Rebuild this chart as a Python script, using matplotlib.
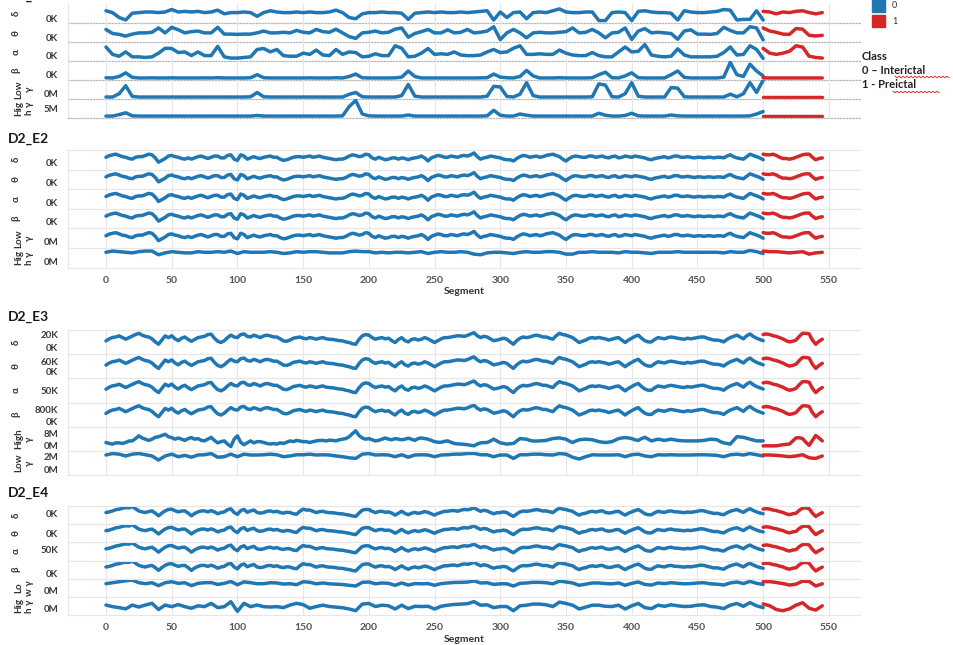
import numpy as np
import matplotlib.pyplot as plt
from matplotlib.patches import Rectangle
from matplotlib.lines import Line2D

plt.rcParams['font.family'] = ['Lato', 'DejaVu Sans']

# values read every 5th segment; class 0 up to 500, class 1 after
seg_blue = np.arange(0, 501, 5)
seg_red = np.arange(500, 546, 5)

# ---- D2_E1 (relative level per row) ----
e1_delta = [8.5, 7, 3, 1, 6.5, 7, 7.5, 7.5, 7, 7.5,
            9.5, 7.5, 8, 7.5, 8, 7, 7.5, 9, 6, 7,
            7, 7.5, 7, 4, 7, 8.5, 7.5, 7, 7, 7.5,
            7, 7.5, 7, 7, 7.5, 9, 7, 3, 2, 6,
            7, 7, 7.5, 7, 7, 6.5, 1.5, 6.5, 7, 7.5,
            7, 7.5, 7, 7, 7.5, 7, 7.5, 8, 8.5, 1,
            7.5, 3, 7, 7.5, 2, 7, 7.5, 7, 8.5, 10,
            7.5, 7, 7, 7.5, 7.5, 0.5, 0.5, 7, 7.5, 7,
            0.5, 8, 8.5, 7.5, 7, 7, 6.5, 1, 8.5, 7.5,
            7, 7, 7.5, 8, 9.5, 9, 1, 1.5, 1.5, 8.5,
            1]
e1_delta_red = [8, 7.5, 6, 7.5, 7, 8, 8.5, 7, 6, 7]

e1_theta = [8.8, 5.5, 4.8, 3.4, 5, 6, 6, 6.5, 10, 6,
            10.5, 8.5, 6, 7, 7.5, 6, 6, 10.5, 5, 5,
            4.8, 5, 5, 6, 7.5, 6, 6, 6.5, 6, 8,
            6.5, 6, 8.8, 7, 6.5, 9, 6, 3, 1.5, 6,
            6.5, 7.5, 6, 6.5, 9, 10, 2.5, 5.5, 7, 8.8,
            6, 6, 8.5, 6, 6.5, 8.8, 6, 6.5, 7.5, 11,
            0.5, 6, 8.8, 6, 2, 6, 6.5, 6, 6, 6.5,
            7, 10, 6, 6.5, 8.8, 6, 2, 6, 6.5, 10,
            0.7, 7.5, 9.5, 6, 6.5, 6, 5.5, 0.8, 7.5, 8.5,
            5, 5, 4.8, 5.5, 10.5, 8, 6, 6, 11, 10,
            0.3]
e1_theta_red = [10, 7.5, 6.5, 5, 4.8, 9.5, 9, 4, 3.5, 4]

e1_alpha = [10, 4, 2.5, 6, 2, 2, 1.5, 2, 5, 9,
            8.8, 5.5, 6, 3, 6, 3, 3, 10.5, 2, 1,
            1, 1.5, 2, 8, 8.8, 6, 8, 3, 2.5, 2.5,
            5, 4, 7.5, 3.5, 3, 8, 4, 6, 5.5, 2,
            2.5, 4.5, 3, 3, 11, 9, 2, 2.5, 5, 8.8,
            4, 4.5, 4, 6, 3.5, 3, 3, 3.5, 6, 8,
            5.5, 6, 9, 11, 4, 4, 4.5, 4, 4, 7.5,
            5, 3.5, 3, 3, 5.5, 3, 2, 2, 6, 10,
            6, 6.5, 12, 3.5, 2.5, 2, 2.5, 8.5, 3.5, 2,
            2, 2, 2, 2.5, 5.5, 10, 3.5, 4, 11, 8,
            0.7]
e1_alpha_red = [8.8, 5, 4, 5, 6.5, 11, 10, 2.5, 1.5, 1]

e1_beta = [0.5, 0.3, 1.5, 4.5, 0.8, 0.3, 0.3, 0.4, 0.3, 0.3,
           0.4, 0.3, 0.3, 0.3, 0.3, 0.4, 0.3, 0.5, 0.3, 0.3,
           0.3, 0.3, 0.5, 3, 0.5, 0.3, 0.3, 0.3, 0.3, 0.3,
           0.3, 0.4, 0.3, 0.3, 0.3, 0.5, 0.3, 1.5, 3.5, 0.5,
           0.3, 0.3, 0.3, 0.3, 0.4, 1, 6, 1.5, 0.3, 0.3,
           0.3, 0.3, 0.3, 0.3, 0.3, 0.3, 0.3, 0.4, 0.5, 3.5,
           1, 0.5, 0.3, 1.5, 6.5, 2, 0.3, 0.3, 0.3, 0.5,
           0.3, 0.3, 0.3, 0.3, 0.5, 3, 5, 0.5, 0.3, 2,
           4.5, 0.5, 0.3, 0.3, 0.3, 0.3, 3, 6, 0.8, 0.3,
           0.3, 0.3, 0.3, 0.3, 1, 13, 3, 1.5, 11.5, 6,
           2]
e1_beta_red = [0.4, 0.3, 0.3, 0.3, 0.3, 0.3, 0.3, 0.3, 0.3, 0.3]

e1_low_gamma = [0.3, 0.3, 3, 9.5, 0.8, 0.3, 0.3, 0.3, 0.3, 0.3,
                0.3, 0.3, 0.3, 0.3, 0.3, 0.3, 0.3, 0.3, 0.3, 0.3,
                0.3, 0.3, 0.5, 4, 0.5, 0.3, 0.3, 0.3, 0.3, 0.3,
                0.3, 0.3, 0.3, 0.3, 0.3, 0.3, 0.3, 2.5, 4, 0.5,
                0.3, 0.3, 0.3, 0.3, 0.3, 1.5, 10.5, 1, 0.3, 0.3,
                0.3, 0.3, 0.3, 0.3, 0.3, 0.3, 0.3, 0.3, 1, 9,
                8.5, 0.8, 0.3, 2.6, 12, 1.5, 0.3, 0.3, 0.3, 0.3,
                0.3, 0.3, 0.3, 0.3, 0.5, 11, 10, 0.5, 0.3, 3,
                12, 1, 0.3, 0.3, 0.3, 0.3, 8, 7.5, 0.5, 0.3,
                0.3, 0.3, 0.3, 0.3, 0.3, 2.6, 0.5, 3, 12, 4,
                14]
e1_low_gamma_red = [0.3, 0.3, 0.3, 0.3, 0.3, 0.3, 0.3, 0.3, 0.3, 0.3]

e1_high_gamma = [0.3, 0.3, 1.5, 3, 0.5, 0.3, 0.3, 0.3, 0.3, 0.3,
                 0.3, 0.3, 0.3, 0.3, 0.3, 0.3, 0.3, 0.3, 0.3, 0.3,
                 0.3, 0.3, 0.3, 0.8, 0.3, 0.3, 0.3, 0.3, 0.3, 0.3,
                 0.3, 0.3, 0.3, 0.3, 0.3, 0.3, 0.5, 8, 13, 2,
                 0.5, 0.3, 0.3, 0.3, 0.3, 0.3, 1.2, 0.3, 0.3, 0.3,
                 0.3, 0.3, 0.3, 0.3, 0.3, 0.3, 0.3, 0.3, 0.5, 5,
                 1, 0.3, 0.3, 2, 1, 0.3, 0.3, 0.3, 0.3, 0.3,
                 0.3, 0.3, 0.3, 0.3, 0.3, 2.6, 1, 0.3, 0.3, 0.8,
                 2.6, 0.5, 0.3, 0.3, 0.3, 0.3, 1.2, 0.5, 0.3, 0.3,
                 0.3, 0.3, 0.3, 0.3, 0.3, 0.3, 0.3, 0.3, 0.5, 2,
                 4]
e1_high_gamma_red = [0.3, 0.3, 0.3, 0.3, 0.3, 0.3, 0.3, 0.3, 0.3, 0.3]

# ---- D2_E2: δ..low γ rows share one trace ----
e2_wave = [8.5, 10.5, 10, 8.5, 7, 9, 10, 10.5, 4.5, 7.5,
           10, 8.5, 7, 7, 9, 8.5, 8.5, 9.5, 8, 10.5,
           6, 9.5, 8, 8, 8.5, 9.5, 8.5, 6, 7.5, 9,
           8.5, 9.5, 9, 8.5, 7.5, 6.5, 7, 9.5, 10, 9.5,
           10.5, 7, 7.5, 7, 8, 8, 6.5, 8, 9.5, 5.5,
           9, 9.5, 8.5, 9, 9.5, 9.5, 12, 7, 8.5, 9,
           8, 6.5, 5.5, 9, 9.5, 9, 8.5, 10, 11, 9,
           5.5, 9, 9, 8.5, 9.5, 9, 8.5, 9, 8, 9.5,
           8.5, 9, 8, 6.5, 8, 9, 8.5, 9.5, 8.5, 8.5,
           8.5, 8, 8.5, 8.5, 8, 10.5, 8, 7, 11, 9,
           6.5]
# in-between readings (segments 2.5, 7.5, ...)
e2_wave_mid = [9.8, 11, 9, 7.5, 8.5, 9, 11, 8, 6, 9.5,
               9, 7.5, 8, 8, 9.5, 7.5, 9.5, 8, 10, 7,
               10.5, 7, 9, 7.5, 9, 8.5, 7, 6.5, 8.5, 9,
               9, 8.5, 9.5, 8, 7, 7, 8, 10.5, 9, 11,
               8, 8.5, 6.5, 8, 7, 7.5, 7.5, 8.5, 8, 8,
               10, 8.5, 9.5, 8.5, 10, 10.5, 9, 8, 9.5, 8.5,
               7, 6.5, 7.5, 10, 8.5, 9.5, 9, 10.5, 10, 7,
               7.5, 9.5, 8.5, 9.5, 8.5, 9.5, 8, 9.5, 8.5, 9,
               9.5, 8.5, 7, 7.5, 8.5, 8, 9.5, 8.5, 9, 8,
               8.5, 8.5, 8, 8.5, 9.5, 9, 7.5, 9, 10, 8]
e2_wave_red = [11, 10.5, 10, 7.5, 7, 8.5, 10.5, 11, 6.5, 8]
e2_wave_red_mid = [10.5, 11, 8.5, 7.5, 7.5, 9.5, 11, 8.5, 7.5]

e2_high_gamma = [11, 12, 11.5, 11, 10.5, 11.5, 12, 12, 9, 10.5,
                 11.5, 11, 10.5, 10.5, 11.5, 11, 11, 11.5, 11, 12,
                 10, 11.5, 11, 11, 11, 11.5, 11, 10, 10.5, 11.5,
                 11, 11.5, 11.5, 11, 10.5, 10.5, 10.5, 11.5, 12, 11.5,
                 11.5, 10.5, 11, 10.5, 11, 11, 10.5, 11, 11.5, 10,
                 11, 11.5, 11, 11, 11.5, 11, 9.5, 9, 10.5, 11,
                 11, 10.5, 10, 11, 11.5, 11, 11, 11.5, 11.5, 11,
                 9.5, 9.5, 11, 11, 11.5, 11, 11, 11, 10.5, 11.5,
                 11, 11, 10.5, 10, 11, 11, 11, 11.5, 11, 11,
                 11, 11, 11, 11, 10.5, 11.5, 11, 11, 12.5, 11.5,
                 10]
e2_high_gamma_red = [12, 11.5, 11.5, 11, 10.5, 11, 11.5, 9.5, 10.5, 11]

# ---- D2_E3 ----
e3_wave = [9.3, 12.1, 13.4, 10.7, 13.4, 15.5, 13, 11, 6.6, 13.4,
           13.5, 9.5, 12.5, 9, 12, 13, 14.8, 9, 9.5, 14,
           12, 15, 12.5, 13, 13.4, 13.4, 12.5, 9.3, 10, 12,
           11.5, 12, 10.7, 12, 10.7, 10, 9.3, 8, 6.6, 13.4,
           14, 10.7, 12, 11.5, 8, 12, 8.5, 11, 10.7, 11,
           8, 11, 12, 13, 13.4, 13.8, 16, 12, 12.5, 9.5,
           10.7, 10.7, 6.6, 11.5, 12, 13.4, 13.4, 12.5, 10.7, 15.5,
           14, 12, 8, 10, 12, 12.1, 11, 10.7, 12, 8,
           11.5, 14, 9.5, 8.5, 12, 11, 12.5, 11.5, 10.7, 11,
           12, 12.5, 10.7, 10, 8.5, 12, 14, 11, 15, 11.5,
           9.5]
e3_wave_mid = [11, 12.5, 12, 12, 14.5, 14, 12.5, 8.5, 10, 12,
               11, 11.5, 10.5, 10.5, 12.5, 14.5, 11.5, 8, 12, 12.5,
               14.5, 13, 14, 12, 14, 12.5, 11, 9, 11.5, 12.5,
               11, 11.5, 11.5, 11, 10.5, 9.5, 8.5, 7, 10.5, 14.5,
               12, 11.5, 11, 9.5, 10.5, 9.5, 10.5, 10, 12, 9.5,
               9.5, 12, 12.5, 13.5, 13, 15, 13.5, 13, 11, 10,
               11.5, 8.5, 9.5, 12.5, 12.5, 14, 12.5, 11.5, 13.5, 14.5,
               13, 10, 9, 11.5, 11.5, 11.5, 10, 11.5, 10, 10,
               13, 11.5, 8.5, 10.5, 11.5, 12, 12, 11, 11.5, 11.5,
               12.5, 11.5, 10, 9.5, 10.5, 13, 12.5, 13.5, 13, 10.5]
e3_wave_red = [14.5, 14.5, 13, 11, 8.5, 10, 15.5, 15, 6.6, 10.7]
e3_wave_red_mid = [15, 13.5, 12, 9.5, 9, 13, 15.5, 10, 9]

e3_high_gamma = [5.3, 4, 5, 5.3, 6.6, 10.7, 8, 8, 10, 12,
                 9.3, 9, 7, 9.3, 8.5, 6.6, 9.5, 5, 6.6, 2,
                 10.7, 3.5, 6.6, 6, 5.3, 4, 4, 4.5, 6.6, 7,
                 6, 5.3, 6.6, 7, 7.2, 6.6, 8, 10, 14.8, 9,
                 8.5, 6.6, 8, 8, 8.5, 7.5, 8.8, 7, 9, 8,
                 6, 5.5, 6.6, 4.5, 4, 3.5, 2.6, 5, 5.3, 8,
                 5, 4, 4.5, 8.5, 8, 6.5, 6.6, 7, 8.5, 9,
                 8, 5.3, 7.5, 8, 7.5, 6, 5.3, 6, 8.5, 9.3,
                 8.5, 7, 9.5, 6.6, 8, 7, 8, 7, 6.6, 6.6,
                 6.6, 7, 8, 7.5, 5, 4, 10, 9.5, 8, 6.6,
                 6.6]
e3_high_gamma_mid = [4.5, 5, 4.5, 6.5, 8.5, 9, 7, 9.5, 11, 10,
                     8, 8, 8.5, 8, 7, 8, 7, 6, 4, 8,
                     5.5, 5, 5, 6, 4.5, 4.5, 5, 5.5, 6, 6.5,
                     6, 6, 7, 6.6, 7, 7.5, 8.5, 12.5, 11, 8,
                     7.5, 7, 9, 7.5, 8, 8, 8, 8.5, 8.5, 7,
                     5.5, 6.2, 5.5, 4.2, 3.8, 3, 4, 5.2, 6.5, 6.5,
                     4.5, 4.3, 6.5, 8.2, 7, 6.5, 6.8, 7.8, 8.8, 8.5,
                     6.5, 6.5, 7.8, 7.8, 6.8, 5.6, 5.6, 7.2, 9, 9,
                     7.5, 8.5, 8, 7.3, 7.5, 7.5, 7.5, 6.8, 6.6, 6.6,
                     6.8, 7.5, 7.8, 6, 4.5, 7, 9.8, 8.8, 7.3, 6.6]
e3_high_gamma_red = [2.5, 2.6, 2.6, 3.5, 4, 9, 8.5, 3, 11, 6.6]
e3_high_gamma_red_mid = [2.6, 2.5, 3, 3.8, 6.5, 9.2, 5.5, 7, 9]

e3_low_gamma = [14.8, 16, 15.5, 14, 15.5, 16, 15, 14, 10.7, 14,
                15.5, 13.4, 14.5, 13, 14.8, 15, 16, 13, 13.4, 15.5,
                13.4, 15.5, 14.8, 14.8, 15, 15.5, 15, 13.4, 14, 15,
                15, 15.5, 14.8, 15, 14.8, 14, 13.4, 12.5, 12, 15.5,
                16, 14.8, 15, 14.8, 13.4, 15, 13, 14.8, 15, 14.8,
                13.4, 14.8, 15, 15.5, 15.5, 16, 16.1, 15, 15, 13.4,
                14.8, 14.8, 12, 15, 15, 15.5, 15.5, 15, 14.8, 16,
                15.5, 13, 11.5, 13.4, 15, 14.8, 14.8, 14.8, 15, 13.4,
                15, 15.5, 14, 13.4, 15, 14.8, 15, 14.8, 14.8, 14.8,
                15, 15, 14.8, 14.5, 13.4, 15, 15.5, 14.8, 16, 15,
                14]
e3_low_gamma_red = [14.8, 14.8, 14.5, 14, 13.4, 14, 15, 12.5, 12, 14]

# ---- D2_E4 ----
e4_wave = [8.0, 9.3, 10.7, 12.0, 12.8, 9.3, 8.0, 9.3, 5.3, 9.3,
           10.7, 8.5, 9.3, 5.3, 8.5, 9.3, 9.5, 7.0, 8.5, 11.0,
           6.5, 10.5, 9.3, 8.0, 8.0, 9.3, 9.0, 7.5, 8.0, 6.6,
           10.7, 10.0, 7.9, 9.0, 7.9, 7.4, 6.9, 5.9, 4.8, 9.9,
           10.4, 7.9, 9.0, 8.5, 5.9, 9.0, 6.2, 8.1, 7.9, 8.1,
           5.9, 8.1, 9.0, 9.6, 9.9, 10.2, 11.9, 9.0, 9.3, 7.0,
           7.9, 7.9, 4.8, 8.5, 9.0, 9.9, 9.9, 9.3, 7.9, 11.5,
           10.4, 9.0, 5.9, 7.4, 9.0, 9.0, 8.1, 7.9, 9.0, 5.9,
           8.5, 10.4, 7.0, 6.2, 9.0, 8.1, 9.3, 8.5, 7.9, 8.1,
           9.0, 9.3, 7.9, 7.4, 6.2, 9.0, 10.4, 8.1, 11.1, 8.5,
           7.0]
e4_wave_mid = [8.5, 10.3, 11.5, 11.8, 11, 8.5, 8.8, 7.5, 7.5, 10.5,
               9.5, 9.2, 7.5, 7.2, 9.3, 8.5, 8.5, 8, 10.3, 8,
               9.5, 8.2, 10, 7.5, 9, 8.5, 8, 8.2, 7, 9,
               10, 9, 8.7, 8.2, 7.8, 7, 6.3, 5.2, 7.5, 10.5,
               9, 8.8, 8.2, 7.5, 7.5, 7.3, 7.4, 7.3, 8.8, 7,
               7.2, 9, 9.5, 9, 10.5, 10.8, 10.3, 9.8, 8, 7.8,
               8.5, 6.2, 6.8, 9.2, 9.3, 10.4, 9.2, 8.6, 10, 10.8,
               9.6, 7.2, 7, 8.5, 8.4, 9.4, 7.6, 8.7, 7.3, 7.4,
               9.6, 8.8, 6.2, 7.8, 8.4, 9, 8.6, 8.2, 8.4, 8.6,
               9.6, 8.5, 7.2, 6.7, 7.8, 9.8, 9.2, 9.9, 9.6, 7.6]
e4_wave_red = [10.8, 10.8, 9.6, 8.1, 6.2, 7.4, 11.5, 11.1, 4.8, 7.9]
e4_wave_red_mid = [11.2, 10, 8.7, 6.9, 7, 9.8, 11.8, 7.5, 6.5]

e4_low_gamma = [9.2, 10.0, 10.8, 11.6, 12.1, 10.0, 9.2, 10.0, 7.6, 10.0,
                10.8, 9.5, 10.0, 7.6, 9.5, 10.0, 10.1, 8.6, 9.5, 11.0,
                8.3, 10.7, 10.0, 9.2, 9.2, 10.0, 9.8, 8.9, 9.2, 8.4,
                10.8, 10.4, 9.1, 9.8, 9.1, 8.8, 8.5, 7.9, 7.3, 10.3,
                10.6, 9.1, 9.8, 9.5, 7.9, 9.8, 8.1, 9.3, 9.1, 9.3,
                7.9, 9.3, 9.8, 10.2, 10.3, 10.5, 11.5, 9.8, 10.0, 8.6,
                9.1, 9.1, 7.3, 9.5, 9.8, 10.3, 10.3, 10.0, 9.1, 11.3,
                10.6, 9.8, 7.9, 8.8, 9.8, 9.8, 9.3, 9.1, 9.8, 7.9,
                9.5, 10.6, 8.6, 8.1, 9.8, 9.3, 10.0, 9.5, 9.1, 9.3,
                9.8, 10.0, 9.1, 8.8, 8.1, 9.8, 10.6, 9.3, 11.1, 9.5,
                8.6]
e4_low_gamma_red = [10.9, 10.9, 10.2, 9.3, 8.1, 8.8, 11.3, 11.1, 7.3, 9.1]

e4_high_gamma = [6.6, 5.3, 4.5, 3.5, 6.6, 5.0, 6.6, 8.0, 3.0, 6.6,
                 5.3, 7.0, 5.3, 4.0, 6.0, 5.3, 8.0, 4.5, 5.3, 9.3,
                 1.5, 8.0, 5.3, 6.6, 5.3, 5.0, 5.3, 4.5, 6.6, 8.0,
                 7.0, 4.0, 5.4, 6.5, 5.4, 4.9, 4.4, 3.4, 2.0, 7.4,
                 7.9, 5.4, 6.5, 6.0, 3.4, 6.5, 3.7, 5.6, 5.4, 5.6,
                 3.4, 5.6, 6.5, 7.1, 7.4, 7.7, 9.4, 6.5, 6.8, 4.5,
                 5.4, 5.4, 2.0, 6.0, 6.5, 7.4, 7.4, 6.8, 5.4, 9.0,
                 7.9, 6.5, 3.4, 4.9, 6.5, 6.5, 5.6, 5.4, 6.5, 3.4,
                 6.0, 7.9, 4.5, 3.7, 6.5, 5.6, 6.8, 6.0, 5.4, 5.6,
                 6.5, 6.8, 5.4, 4.9, 3.7, 6.5, 7.9, 5.6, 8.6, 6.0,
                 4.5]
e4_high_gamma_red = [7.5, 6.0, 3.0, 2.0, 3.5, 6.5, 8.5, 4.0, 2.5, 6.0]

x_ticks = np.arange(0, 551, 50)

BLUE = '#1f77b4'
RED = '#d62728'
GRID = '#e6e6e6'
W, H = 954, 645
X0, X1 = 68, 860


def weave(main, mid):
    # put the in-between readings back between the 5-segment readings
    out = np.empty(len(main) + len(mid))
    out[0::2] = main
    out[1::2] = mid
    return out


def seg_axis(vals, start):
    step = 5 if len(vals) in (len(seg_blue), len(seg_red)) else 2.5
    return start + step * np.arange(len(vals))


e2_blue = weave(e2_wave, e2_wave_mid)
e2_red = weave(e2_wave_red, e2_wave_red_mid)
e3_blue = weave(e3_wave, e3_wave_mid)
e3_red = weave(e3_wave_red, e3_wave_red_mid)
e3_hg_blue = weave(e3_high_gamma, e3_high_gamma_mid)
e3_hg_red = weave(e3_high_gamma_red, e3_high_gamma_red_mid)
e4_blue = weave(e4_wave, e4_wave_mid)
e4_red = weave(e4_wave_red, e4_wave_red_mid)

fig = plt.figure(figsize=(W / 100, H / 100), dpi=100)
fig.patch.set_facecolor('white')


def fx(x):
    return x / W


def fy(y):
    return 1 - y / H


panels = [
    dict(title='D2_E1', title_y=-4, top=4, bottom=118.3, ylim=(-1.5, 14), dotted=True, xaxis=False,
         rows=[('δ', e1_delta, e1_delta_red, [(2.0, '0K')]),
               ('θ', e1_theta, e1_theta_red, [(2.6, '0K')]),
               ('α', e1_alpha, e1_alpha_red, [(3.4, '0K')]),
               ('β', e1_beta, e1_beta_red, [(3.4, '0K')]),
               ('Low\nγ', e1_low_gamma, e1_low_gamma_red, [(3.1, '0M')]),
               ('Hig\nh γ', e1_high_gamma, e1_high_gamma_red, [(6.6, '5M')])]),
    dict(title='D2_E2', title_y=139, top=150, bottom=267.7, ylim=(-1.5, 14.4), dotted=False, xaxis=True,
         rows=[('δ', e2_blue, e2_red, [(3.9, '0K')]),
               ('θ', e2_blue, e2_red, [(3.9, '0K')]),
               ('α', e2_blue, e2_red, [(3.9, '0K')]),
               ('β', e2_blue, e2_red, [(3.9, '0K')]),
               ('Low\nγ', e2_blue, e2_red, [(3.9, '0M')]),
               ('Hig\nh γ', e2_high_gamma, e2_high_gamma_red, [(3.9, '0M')])]),
    dict(title='D2_E3', title_y=317, top=330, bottom=475, ylim=(-1.5, 18.2), dotted=False, xaxis=False,
         rows=[('δ', e3_blue, e3_red, [(4.0, '0K'), (14.8, '20K')]),
               ('θ', e3_blue, e3_red, [(4.4, '0K'), (12.1, '60K')]),
               ('α', e3_blue, e3_red, [(8.0, '50K')]),
               ('β', e3_blue, e3_red, [(2.8, '0K'), (12.9, '800K')]),
               ('High\nγ', e3_hg_blue, e3_hg_red, [(2.6, '0M'), (12.9, '8M')]),
               ('Low\nγ', e3_low_gamma, e3_low_gamma_red, [(3.1, '0M'), (13.9, '2M')])]),
    dict(title='D2_E4', title_y=493, top=506, bottom=615, ylim=(-1.5, 13.3), dotted=False, xaxis=True,
         rows=[('δ', e4_blue, e4_red, [(7.2, '0K')]),
               ('θ', e4_blue, e4_red, [(5.8, '0K')]),
               ('α', e4_blue, e4_red, [(7.4, '50K')]),
               ('β', e4_blue, e4_red, [(2.6, '0K')]),
               ('Lo\nw γ', e4_low_gamma, e4_low_gamma_red, [(4.0, '0M')]),
               ('Hig\nh γ', e4_high_gamma, e4_high_gamma_red, [(4.0, '0M')])]),
]

for p in panels:
    rows = p['rows']
    rh = (p['bottom'] - p['top']) / len(rows)
    fig.text(fx(8), fy(p['title_y']), p['title'], fontsize=10, fontweight='bold',
             ha='left', va='center', color='#1a1a1a')
    for i, (label, blue, red, ticks) in enumerate(rows):
        top = p['top'] + i * rh
        ax = fig.add_axes([fx(X0), fy(top + rh), (X1 - X0) / W, rh / H])
        ax.set_facecolor('none')
        ax.plot(seg_axis(blue, 0), blue, color=BLUE, lw=2.5, solid_joinstyle='round',
                solid_capstyle='round')
        ax.plot(seg_axis(red, 500), red, color=RED, lw=2.5, solid_joinstyle='round',
                solid_capstyle='round')
        ax.set_xlim(-28.9, 573.7)
        ax.set_ylim(*p['ylim'])
        ax.set_xticks(x_ticks)
        ax.grid(axis='x', color=GRID, lw=0.8)
        ax.set_axisbelow(True)
        ax.set_yticks([t[0] for t in ticks], [t[1] for t in ticks],
                      fontsize=7, fontweight='bold', color='#3a3a3a')
        ax.tick_params(axis='y', length=0, pad=7)
        last = (i == len(rows) - 1)
        ax.tick_params(axis='x', length=0, labelbottom=(last and p['xaxis']), pad=6,
                       labelsize=7.5, labelcolor='#555555')
        if last and p['xaxis']:
            for lbl in ax.get_xticklabels():
                lbl.set_fontweight('bold')
        ax.spines['right'].set_visible(False)
        ax.spines['left'].set_color(GRID)
        ax.spines['left'].set_linewidth(0.8)
        if p['dotted']:
            ax.spines['top'].set_visible(False)
            ax.spines['bottom'].set_color('#b8b8b8')
            ax.spines['bottom'].set_linestyle((0, (1, 1.5)))
            ax.spines['bottom'].set_linewidth(0.9)
        else:
            for s in ('top', 'bottom'):
                ax.spines[s].set_color(GRID)
                ax.spines[s].set_linewidth(0.8)
        # row header
        xc = 16 if '\n' not in label else 24
        fig.text(fx(xc), fy(top + rh / 2), label, rotation=90, ha='center', va='center',
                 fontsize=7, fontweight='bold', color='#333333', linespacing=1.35,
                 multialignment='center')
    if p['xaxis']:
        fig.text(fx((X0 + X1) / 2), fy(p['bottom'] + 24), 'Segment', fontsize=7.5,
                 fontweight='bold', ha='center', va='center', color='#333333')

# legend
fig.patches.append(Rectangle((fx(872), fy(11.5)), 13 / W, 12 / H, transform=fig.transFigure,
                             color=BLUE))
fig.patches.append(Rectangle((fx(872), fy(27)), 13 / W, 12 / H, transform=fig.transFigure,
                             color=RED))
fig.text(fx(892), fy(5.5), '0', fontsize=6.5, ha='left', va='center', color='#333333')
fig.text(fx(892), fy(21), '1', fontsize=6.5, ha='left', va='center', color='#333333')
fig.text(fx(862), fy(56), 'Class', fontsize=8, fontweight='bold', ha='left', va='center', color='#222222')
fig.text(fx(862), fy(70), '0 – Interictal', fontsize=8, fontweight='bold', ha='left', va='center',
         color='#222222')
fig.text(fx(862), fy(85), '1 - Preictal', fontsize=8, fontweight='bold', ha='left', va='center',
         color='#222222')
# spell-check squiggles under the legend words
for xa, xb, yy in [(895, 950, 77), (893, 940, 92)]:
    xs = np.arange(xa, xb + 1, 2)
    ys = yy + np.where(np.arange(len(xs)) % 2 == 0, -0.8, 0.8)
    fig.add_artist(Line2D(fx(xs), fy(ys), transform=fig.transFigure, color='#e0322c', lw=0.7))

fig.savefig('out.png', dpi=100)
